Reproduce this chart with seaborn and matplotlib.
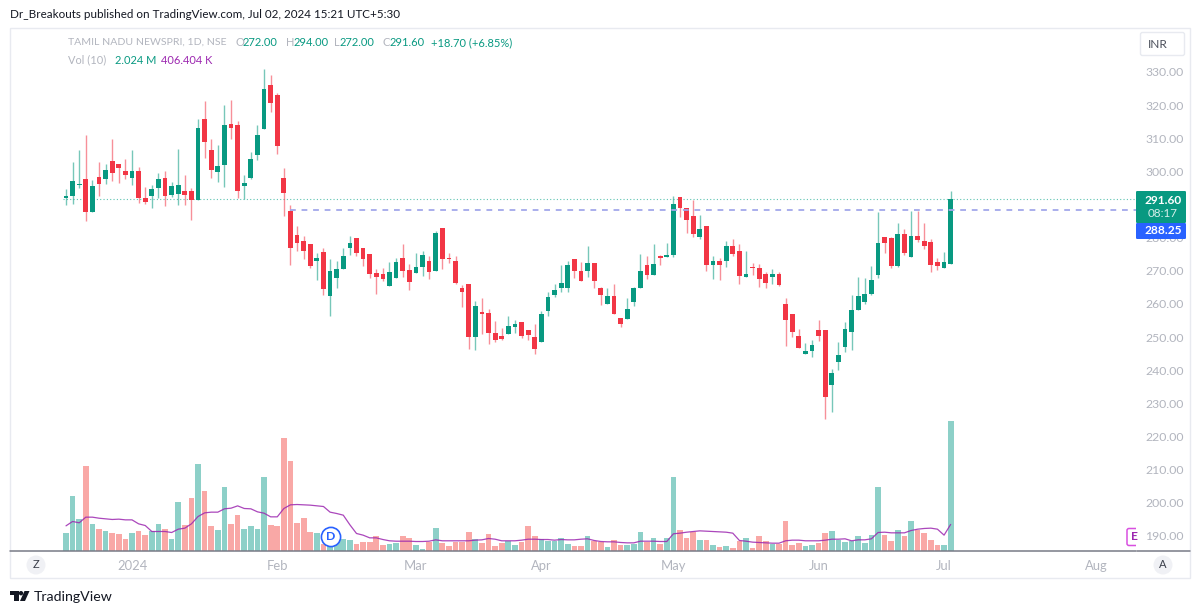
"""Daily candles with volume for TAMIL NADU NEWSPRI, laid out like the TradingView snapshot."""

import matplotlib
matplotlib.use('Agg')
import matplotlib.pyplot as plt
import numpy as np
import pandas as pd
import seaborn as sns
from matplotlib.patches import Circle, FancyBboxPatch, Polygon, Rectangle

opens = [
    292.0, 292.5, 296.0, 297.8, 287.9, 298.2, 297.7, 303.2, 302.2, 300.0,
    298.1, 300.0, 291.9, 292.5, 294.9, 298.0, 292.9, 293.1, 294.2, 294.2,
    291.3, 315.8, 306.4, 299.9, 302.0, 314.3, 314.1, 295.5, 298.1, 304.9,
    312.8, 326.1, 323.1, 298.0, 288.1, 280.7, 279.0, 278.0, 272.9, 275.8,
    262.4, 267.8, 270.7, 277.0, 279.8, 277.0, 275.1, 269.2, 268.9, 265.4,
    267.8, 274.0, 270.2, 269.2, 271.1, 273.0, 269.9, 282.9, 273.8, 273.0,
    264.9, 265.9, 250.0, 257.5, 257.3, 251.3, 250.2, 251.0, 253.2, 254.5,
    252.0, 249.9, 248.4, 258.0, 262.7, 264.9, 264.8, 273.6, 270.0, 269.9,
    272.4, 264.9, 260.0, 262.5, 255.8, 255.4, 260.6, 264.8, 271.8, 268.8,
    274.5, 274.2, 274.8, 292.4, 289.0, 286.6, 280.1, 283.4, 271.9, 273.0,
    273.0, 277.5, 276.0, 268.2, 271.1, 270.9, 268.9, 268.1, 268.9, 260.0,
    257.0, 250.3, 245.0, 245.9, 252.1, 252.0, 235.6, 242.4, 247.1, 251.6,
    258.2, 260.5, 263.0, 268.8, 280.1, 280.0, 271.5, 281.0, 274.3, 280.4,
    279.0, 278.6, 272.6, 271.0, 272.0,
]
highs = [
    294.6, 302.9, 306.5, 311.0, 297.4, 302.9, 302.1, 309.9, 302.2, 303.8,
    306.6, 301.4, 295.4, 295.9, 299.4, 300.0, 296.8, 306.8, 298.8, 295.0,
    315.9, 321.4, 309.9, 307.9, 319.9, 321.6, 315.3, 299.0, 305.9, 314.0,
    330.9, 329.1, 323.6, 301.0, 289.9, 283.6, 280.4, 278.0, 275.5, 276.8,
    273.5, 273.1, 277.0, 280.5, 279.8, 277.0, 275.1, 270.6, 271.0, 272.6,
    274.0, 278.0, 272.0, 275.3, 276.0, 274.6, 282.1, 282.9, 275.4, 274.6,
    265.6, 265.9, 260.9, 261.8, 258.5, 254.8, 252.8, 256.3, 255.1, 254.5,
    252.0, 254.0, 258.0, 263.7, 266.1, 271.8, 272.9, 273.6, 272.8, 277.5,
    272.4, 265.2, 264.7, 265.9, 255.8, 261.7, 265.2, 275.1, 274.6, 278.0,
    274.9, 278.5, 292.6, 292.4, 289.0, 291.4, 286.7, 283.4, 274.4, 273.9,
    278.9, 279.5, 278.2, 276.0, 272.3, 272.1, 269.6, 270.6, 269.8, 261.9,
    257.0, 252.6, 248.1, 249.1, 255.2, 252.0, 240.3, 248.4, 254.7, 262.6,
    268.0, 267.8, 271.6, 287.9, 280.1, 280.3, 284.5, 282.6, 288.1, 288.1,
    284.3, 279.6, 274.0, 275.6, 294.0,
]
lows = [
    289.8, 290.3, 295.1, 284.9, 287.9, 292.6, 296.3, 297.2, 296.6, 297.8,
    295.8, 290.6, 290.2, 288.9, 291.9, 289.6, 292.2, 290.0, 289.9, 285.3,
    291.3, 304.0, 298.0, 296.7, 295.4, 309.9, 292.0, 291.6, 297.8, 303.5,
    312.8, 318.0, 305.4, 286.6, 271.7, 276.1, 273.6, 270.9, 267.3, 262.6,
    256.4, 264.8, 270.5, 274.9, 274.6, 271.5, 267.8, 263.0, 267.0, 265.4,
    267.8, 268.0, 264.2, 269.2, 268.4, 267.6, 269.9, 270.5, 272.5, 266.0,
    259.2, 246.3, 246.1, 251.0, 247.8, 248.6, 249.0, 251.0, 251.2, 249.6,
    249.0, 245.0, 248.4, 256.4, 262.2, 263.7, 263.6, 267.9, 266.9, 268.0,
    264.9, 259.6, 260.0, 257.1, 253.2, 255.4, 259.4, 264.8, 267.4, 268.8,
    271.7, 274.2, 274.3, 286.3, 281.3, 280.3, 279.5, 270.0, 267.4, 267.2,
    271.3, 274.4, 266.0, 268.2, 268.8, 265.0, 264.7, 266.0, 265.3, 247.3,
    250.1, 246.6, 245.0, 244.0, 248.9, 225.2, 227.5, 240.0, 245.6, 246.2,
    258.2, 260.1, 262.7, 267.7, 275.4, 270.8, 271.1, 274.7, 274.3, 278.6,
    276.6, 269.8, 270.3, 270.8, 272.0,
]
closes = [
    292.6, 297.0, 296.3, 287.7, 295.6, 296.3, 300.4, 299.6, 300.9, 299.0,
    300.0, 292.0, 290.8, 294.8, 297.7, 292.5, 295.6, 295.9, 292.9, 291.3,
    313.1, 309.0, 300.4, 301.6, 314.1, 313.2, 294.1, 296.6, 303.6, 311.1,
    324.8, 320.7, 307.6, 293.5, 276.9, 278.5, 276.0, 271.5, 273.8, 264.6,
    270.0, 270.6, 274.6, 278.5, 275.5, 273.5, 269.0, 268.0, 267.5, 269.6,
    272.8, 270.1, 266.7, 271.2, 274.8, 269.7, 281.3, 273.5, 273.5, 266.2,
    263.6, 250.0, 259.3, 257.1, 251.3, 249.2, 249.4, 253.3, 254.0, 250.4,
    250.7, 246.4, 257.0, 262.0, 264.1, 266.4, 271.8, 270.0, 266.9, 272.4,
    267.0, 262.7, 262.5, 257.1, 254.0, 258.5, 264.9, 270.1, 268.8, 272.0,
    274.0, 274.8, 290.2, 288.9, 285.2, 281.0, 282.6, 271.9, 273.0, 271.7,
    277.6, 275.2, 268.5, 269.1, 270.9, 267.6, 266.4, 268.9, 265.6, 255.2,
    251.6, 246.8, 245.9, 247.5, 250.4, 232.0, 239.1, 244.7, 252.6, 258.1,
    262.4, 263.1, 267.3, 278.4, 278.5, 271.5, 281.0, 275.5, 280.4, 279.3,
    277.5, 271.9, 271.5, 272.8, 291.6,
]
# volumes and their 10 day average, in millions
volumes = [
    0.275, 0.841, 0.498, 1.318, 0.410, 0.337, 0.306, 0.275, 0.254, 0.182,
    0.280, 0.306, 0.244, 0.306, 0.410, 0.327, 0.182, 0.753, 0.400, 0.825,
    1.349, 0.929, 0.379, 0.317, 0.981, 0.410, 0.555, 0.337, 0.389, 0.337,
    1.142, 0.400, 0.379, 1.754, 1.386, 0.431, 0.503, 0.285, 0.265, 0.104,
    0.130, 0.156, 0.182, 0.161, 0.099, 0.140, 0.140, 0.228, 0.093, 0.104,
    0.114, 0.228, 0.197, 0.083, 0.026, 0.135, 0.358, 0.114, 0.073, 0.125,
    0.135, 0.285, 0.182, 0.109, 0.254, 0.073, 0.114, 0.145, 0.083, 0.125,
    0.374, 0.228, 0.182, 0.145, 0.145, 0.197, 0.104, 0.073, 0.073, 0.218,
    0.145, 0.135, 0.062, 0.166, 0.083, 0.083, 0.104, 0.285, 0.125, 0.187,
    0.104, 0.187, 1.152, 0.322, 0.197, 0.285, 0.166, 0.166, 0.093, 0.062,
    0.073, 0.042, 0.145, 0.197, 0.042, 0.218, 0.145, 0.104, 0.104, 0.452,
    0.093, 0.114, 0.073, 0.093, 0.114, 0.275, 0.296, 0.166, 0.135, 0.145,
    0.218, 0.114, 0.249, 0.996, 0.244, 0.145, 0.322, 0.218, 0.462, 0.322,
    0.275, 0.166, 0.093, 0.083, 2.024,
]
volume_ma = [
    0.384, 0.452, 0.431, 0.519, 0.519, 0.503, 0.493, 0.483, 0.488, 0.477,
    0.477, 0.415, 0.389, 0.296, 0.296, 0.296, 0.280, 0.332, 0.348, 0.415,
    0.529, 0.586, 0.597, 0.597, 0.649, 0.659, 0.695, 0.654, 0.649, 0.602,
    0.581, 0.524, 0.524, 0.654, 0.711, 0.716, 0.711, 0.706, 0.695, 0.685,
    0.597, 0.576, 0.550, 0.400, 0.265, 0.239, 0.197, 0.197, 0.171, 0.151,
    0.145, 0.145, 0.145, 0.140, 0.140, 0.145, 0.166, 0.151, 0.151, 0.151,
    0.151, 0.151, 0.161, 0.166, 0.187, 0.176, 0.151, 0.151, 0.151, 0.161,
    0.176, 0.176, 0.171, 0.171, 0.161, 0.171, 0.166, 0.166, 0.176, 0.182,
    0.156, 0.140, 0.135, 0.135, 0.125, 0.119, 0.119, 0.145, 0.145, 0.145,
    0.140, 0.140, 0.260, 0.270, 0.285, 0.296, 0.306, 0.301, 0.296, 0.291,
    0.285, 0.270, 0.156, 0.145, 0.130, 0.125, 0.119, 0.114, 0.114, 0.151,
    0.161, 0.161, 0.151, 0.151, 0.151, 0.161, 0.176, 0.176, 0.182, 0.151,
    0.166, 0.166, 0.182, 0.280, 0.285, 0.275, 0.275, 0.275, 0.311, 0.332,
    0.343, 0.348, 0.332, 0.239, 0.406,
]
month_ticks = [10, 32, 53, 72, 92, 114, 133, 156]
month_labels = ['2024', 'Feb', 'Mar', 'Apr', 'May', 'Jun', 'Jul', 'Aug']
price_ticks = [190, 200, 210, 220, 230, 240, 250, 260, 270, 280, 290, 300, 310, 320, 330]
last_price = 291.60
line_price = 288.25

UP = '#089981'
DOWN = '#f23645'
UP_VOL = '#8dd0c8'
DOWN_VOL = '#f9a8a6'
PURPLE = '#9c27b0'
GREY = '#b2b5be'
BLUE = '#2962ff'
INK = '#131722'
FONT = 'Lato'

W, H = 1200, 614
LEFT, RIGHT, TOP, BOTTOM = 10, 1136, 28, 550.5
FIRST_X, STEP = 66.0, 6.602
PX_PER_UNIT = 3.314


def build_frame():
    df = pd.DataFrame({
        'idx': np.arange(len(opens)),
        'open': opens, 'high': highs, 'low': lows, 'close': closes,
        'volume': volumes, 'volume_ma': volume_ma,
    })
    df['up'] = df['close'] >= df['open']
    df['base'] = df[['open', 'close']].min(axis=1)
    # very small bodies still show as a thin bar
    df['body'] = (df['close'] - df['open']).abs().clip(lower=0.35)
    return df


def plot_candles(ax, df):
    for is_up, color in [(True, UP), (False, DOWN)]:
        part = df[df['up'] == is_up]
        ax.vlines(part['idx'], part['low'], part['high'], color=color, lw=1.0, alpha=0.55, zorder=2)
        sns.barplot(data=part, x='idx', y='body', bottom=part['base'].values, native_scale=True,
                    color=color, saturation=1, width=0.72, errorbar=None, ax=ax, zorder=3,
                    edgecolor='none', linewidth=0)

    xmax = (RIGHT - FIRST_X) / STEP
    ax.hlines(last_price, -0.5, xmax, color='#5fc4b2', lw=0.8, ls=(0, (1, 2)), zorder=1)
    ax.hlines(line_price, 34, xmax, color='#a3a8ea', lw=1.3, ls=(0, (3.2, 3.2)), zorder=4)

    ax.set_xlim((LEFT - FIRST_X) / STEP, xmax)
    ax.set_ylim(330 - (BOTTOM - 72) / PX_PER_UNIT, 330 - (TOP - 72) / PX_PER_UNIT)
    ax.yaxis.tick_right()
    ax.set_yticks(price_ticks)
    ax.set_yticklabels([f'{p:.2f}' for p in price_ticks], color=GREY, fontsize=8.8)
    ax.set_xticks(month_ticks)
    ax.set_xticklabels(month_labels, color=GREY, fontsize=9.4)
    ax.tick_params(axis='both', length=0)
    ax.tick_params(axis='y', pad=6.5)
    ax.tick_params(axis='x', pad=7)
    ax.set_xlabel('')
    ax.set_ylabel('')
    sns.despine(ax=ax, left=True, bottom=True, right=True, top=True)


def plot_volume(ax, df):
    for is_up, color in [(True, UP_VOL), (False, DOWN_VOL)]:
        part = df[df['up'] == is_up]
        sns.barplot(data=part, x='idx', y='volume', native_scale=True, color=color, saturation=1,
                    width=0.86, errorbar=None, ax=ax, zorder=1, edgecolor='none', linewidth=0)
    sns.lineplot(data=df, x='idx', y='volume_ma', color=PURPLE, lw=0.9, alpha=0.85, errorbar=None, ax=ax, zorder=2)
    ax.set_xlim((LEFT - FIRST_X) / STEP, (RIGHT - FIRST_X) / STEP)
    # 130 px of the picture holds the 2.024M bar
    ax.set_ylim(0, (BOTTOM - TOP) * 2.024 / 130)
    ax.axis('off')


def draw_chrome(ov):
    """Panel frame, header texts, price tags, buttons and logo in picture pixels."""
    ov.add_patch(Rectangle((10, 27.5), 1180, 550.5, fill=False, ec='#e8eaf0', lw=1))
    ov.plot([10, 1136], [550.5, 550.5], color='#787b86', lw=1.1)
    ov.plot([1137, 1190], [550.5, 550.5], color='#787b86', lw=1.1)

    ov.text(10, 15, 'Dr_Breakouts published on TradingView.com, Jul 02, 2024 15:21 UTC+5:30',
            color=INK, fontsize=8.35, va='center', family=FONT)

    ov.text(68.3, 42.5, 'TAMIL NADU NEWSPRI, 1D, NSE', color=GREY, fontsize=7.55, va='center', family=FONT)
    row1 = [(235.3, 'O', GREY), (243, '272.00', UP), (285.7, 'H', GREY), (293.5, '294.00', UP),
            (334, 'L', GREY), (340, '272.00', UP), (382.7, 'C', GREY), (390, '291.60', UP),
            (431, '+18.70 (+6.85%)', UP)]
    for x, label, color in row1:
        ov.text(x, 42.5, label, color=color, fontsize=8.0, va='center', family=FONT)
    row2 = [(68.3, 'Vol (10)', GREY), (115, '2.024 M', UP), (161, '406.404 K', PURPLE)]
    for x, label, color in row2:
        ov.text(x, 60, label, color=color, fontsize=7.9, va='center', family=FONT)

    # INR button
    ov.add_patch(FancyBboxPatch((1140.5, 32.5), 44, 23, boxstyle='round,pad=0,rounding_size=2',
                                fc='white', ec='#e8eaf0', lw=1))
    ov.text(1158, 44, 'INR', color='#4a4e5a', fontsize=8.6, ha='center', va='center', family=FONT)

    # last price and line price tags
    ov.add_patch(FancyBboxPatch((1136, 191), 50, 32, boxstyle='round,pad=0,rounding_size=1.2',
                                fc=UP, ec='none', zorder=5))
    ov.add_patch(FancyBboxPatch((1136, 223), 50, 16, boxstyle='round,pad=0,rounding_size=1.2',
                                fc=BLUE, ec='none', zorder=5))
    ov.text(1163, 200, f'{last_price:.2f}', color='white', fontsize=8.6, fontweight='bold',
            ha='center', va='center', family=FONT, zorder=6)
    ov.text(1163, 213.5, '08:17', color='#d5efea', fontsize=8.4, ha='center', va='center', family=FONT, zorder=6)
    ov.text(1163, 231, f'{line_price:.2f}', color='white', fontsize=8.6, fontweight='bold',
            ha='center', va='center', family=FONT, zorder=6)

    # D marker on the volume pane
    ov.add_patch(Circle((331, 537), 9.6, fc='white', ec=BLUE, lw=1.2, zorder=5))
    ov.text(331, 537, 'D', color=BLUE, fontsize=8.8, fontweight='bold', ha='center', va='center',
            family=FONT, zorder=6)

    # E marker cut off by the price axis
    clip = Rectangle((1120, 520), 16, 30, transform=ov.transData)
    e_box = FancyBboxPatch((1127, 528.5), 18, 17, boxstyle='round,pad=0,rounding_size=2',
                           fc='white', ec='#d84fe0', lw=1.1, zorder=5)
    ov.add_patch(e_box)
    e_box.set_clip_path(clip)
    ov.text(1134, 537, 'E', color=PURPLE, fontsize=8.6, fontweight='bold', ha='center', va='center',
            family=FONT, zorder=6)

    # Z and A buttons
    for x, label in [(36, 'Z'), (1163, 'A')]:
        ov.add_patch(Circle((x, 565), 9.5, fc='#f0f1f5', ec='none'))
        ov.text(x, 565, label, color='#3a3e4a', fontsize=8, ha='center', va='center', family=FONT)

    # TradingView logo
    ov.add_patch(Polygon([(10, 591), (18.5, 591), (18.5, 601), (14, 601), (14, 595.2), (10, 595.2)],
                         fc=INK, ec='none'))
    ov.add_patch(Circle((21, 593.2), 2.2, fc=INK, ec='none'))
    ov.add_patch(Polygon([(24.5, 591), (29.5, 591), (25, 601), (20, 601)], fc=INK, ec='none'))
    ov.text(34, 597, 'TradingView', color=INK, fontsize=10.2, va='center', family=FONT)


def main():
    sns.set_theme(style='white')
    plt.rcParams['font.family'] = [FONT, 'DejaVu Sans']
    df = build_frame()

    fig = plt.figure(figsize=(W / 100, H / 100), dpi=100, facecolor='white')
    rect = [LEFT / W, (H - BOTTOM) / H, (RIGHT - LEFT) / W, (BOTTOM - TOP) / H]
    ax_vol = fig.add_axes(rect, facecolor='white', zorder=1)
    ax_price = fig.add_axes(rect, facecolor='none', zorder=2)
    overlay = fig.add_axes([0, 0, 1, 1], facecolor='none', zorder=3)
    overlay.set_xlim(0, W)
    overlay.set_ylim(H, 0)
    overlay.axis('off')

    plot_volume(ax_vol, df)
    plot_candles(ax_price, df)
    draw_chrome(overlay)

    fig.savefig('out.png', dpi=100, facecolor='white')


if __name__ == '__main__':
    main()
